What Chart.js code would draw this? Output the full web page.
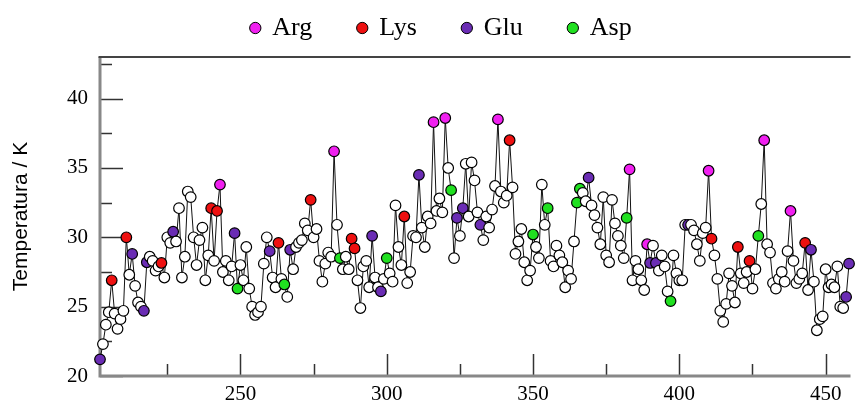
<!DOCTYPE html>
<html>
<head>
<meta charset="utf-8">
<script src="https://cdn.jsdelivr.net/npm/chart.js@4.4.1/dist/chart.umd.min.js"></script>
<style>
  html, body { margin: 0; padding: 0; background: #ffffff; }
  #wrap { width: 857px; height: 411px; }
</style>
</head>
<body>
<div id="wrap"><canvas id="c" width="857" height="411"></canvas></div>
<script>
// ---- data ----
const FIRST_RESIDUE = 202;
const temperature = [
  21.2, 22.3, 23.7, 24.6, 26.9, 24.5, 23.4, 24.1, 24.7, 30.0,   // 202-211
  27.3, 28.8, 26.5, 25.3, 25.0, 24.7, 28.2, 28.6, 28.3, 27.6,   // 212-221
  27.9, 28.15, 27.1, 30.0, 29.6, 30.4, 29.7, 32.1, 27.1, 28.6,  // 222-231
  33.3, 32.9, 30.0, 28.0, 29.8, 30.7, 26.9, 28.7, 32.1, 28.3,   // 232-241
  31.9, 33.8, 27.5, 28.3, 26.9, 27.9, 30.3, 26.3, 28.0, 26.9,   // 242-251
  29.3, 26.3, 25.0, 24.4, 24.6, 25.0, 28.1, 30.0, 29.0, 27.1,   // 252-261
  26.4, 29.6, 27.0, 26.6, 25.7, 29.1, 27.7, 29.3, 29.6, 29.8,   // 262-271
  31.0, 30.5, 32.7, 30.0, 30.6, 28.3, 26.8, 28.1, 28.9, 28.6,   // 272-281
  36.2, 30.9, 28.5, 27.7, 28.6, 27.7, 29.9, 29.2, 26.9, 24.9,   // 282-291
  27.9, 28.3, 26.4, 30.1, 27.1, 26.4, 26.1, 27.0, 28.5, 27.4,   // 292-301
  26.8, 32.3, 29.3, 28.0, 31.5, 26.7, 27.5, 30.1, 30.0, 34.5,   // 302-311
  30.7, 29.3, 31.5, 31.0, 38.3, 31.9, 32.8, 31.8, 38.6, 35.0,   // 312-321
  33.4, 28.5, 31.4, 30.1, 32.1, 35.3, 31.5, 35.4, 34.1, 31.8,   // 322-331
  30.9, 29.8, 31.5, 30.7, 32.0, 33.7, 38.5, 33.3, 32.5, 33.0,   // 332-341
  37.0, 33.6, 28.8, 29.7, 30.6, 28.2, 26.9, 27.6, 30.2, 29.3,   // 342-351
  28.5, 33.8, 30.9, 32.1, 28.3, 27.9, 29.4, 28.7, 28.2, 26.4,   // 352-361
  27.6, 27.0, 29.7, 32.5, 33.5, 33.2, 32.6, 34.3, 32.3, 31.6,   // 362-371
  30.7, 29.5, 32.9, 28.7, 28.2, 32.7, 31.0, 30.1, 29.4, 28.5,   // 372-381
  31.4, 34.9, 26.9, 28.3, 27.7, 26.9, 26.2, 29.5, 28.15, 29.4,  // 382-391
  28.15, 27.6, 28.7, 27.9, 26.1, 25.4, 28.7, 27.4, 26.9, 26.9,  // 392-401
  30.9, 30.9, 30.9, 30.5, 29.5, 28.3, 30.3, 30.7, 34.8, 29.9,   // 402-411
  28.7, 27.0, 24.7, 23.9, 25.2, 27.4, 26.5, 25.3, 29.3, 27.4,   // 412-421
  26.7, 27.5, 28.3, 26.3, 27.7, 30.1, 32.4, 37.0, 29.5, 28.9,   // 422-431
  26.7, 26.3, 27.0, 27.5, 26.8, 29.0, 31.9, 28.3, 26.7, 27.0,   // 432-441
  27.4, 29.6, 26.2, 29.1, 26.8, 23.3, 24.1, 24.3, 27.7, 26.4,   // 442-451
  26.6, 26.4, 27.9, 25.0, 24.9, 25.7, 28.1                      // 452-458
];
const argResidues = [243, 282, 316, 320, 338, 383, 389, 410, 429, 438];
const lysResidues = [206, 211, 223, 240, 242, 263, 274, 288, 289, 306, 342, 411, 420, 424, 443];
const gluResidues = [202, 213, 217, 218, 227, 248, 260, 267, 295, 298, 311, 324, 326, 332, 369, 390, 392, 403, 445, 457, 458];
const aspResidues = [249, 265, 284, 300, 322, 350, 355, 365, 366, 382, 397, 427];
const legendLabels = ['Arg', 'Lys', 'Glu', 'Asp'];
const xTickLabels = [250, 300, 350, 400, 450];
const yTickLabels = [20, 25, 30, 35, 40];

// ---- styling ----
const typeColors = { Arg: '#f020f0', Lys: '#ee1010', Glu: '#6a2cb4', Asp: '#20e020' };
const points = temperature.map((t, i) => ({ x: FIRST_RESIDUE + i, y: t }));
const pointColors = points.map(p => {
  if (argResidues.includes(p.x)) return typeColors.Arg;
  if (lysResidues.includes(p.x)) return typeColors.Lys;
  if (gluResidues.includes(p.x)) return typeColors.Glu;
  if (aspResidues.includes(p.x)) return typeColors.Asp;
  return '#ffffff';
});

const legendDatasets = legendLabels.map(name => ({
  label: name,
  data: [],
  backgroundColor: typeColors[name],
  borderColor: '#000',
  borderWidth: 1,
  pointStyle: 'circle',
  showLine: false
}));

const SERIF = "'Liberation Serif', 'DejaVu Serif', serif";
const SANS = "'Liberation Sans', Arial, sans-serif";

const framePlugin = {
  id: 'frame',
  beforeInit(chart) {
    const lg = chart.legend;
    const origFit = lg.fit;
    lg.fit = function () { origFit.call(this); this.height = 57; };
  },
  afterLayout(chart) {
    const lg = chart.legend;
    lg.top = -31;
    lg.left += 13;
    lg.right += 13;
  },
  beforeDatasetsDraw(chart) {
    const { ctx, chartArea: a, scales: { x, y } } = chart;
    ctx.save();
    // inward tick marks
    ctx.strokeStyle = '#333';
    ctx.lineWidth = 1.5;
    x.ticks.forEach(t => {
      const px = Math.round(x.getPixelForValue(t.value)) + 0.5;
      const len = (t.value % 50 === 0) ? 22 : 12;
      ctx.beginPath(); ctx.moveTo(px, a.bottom); ctx.lineTo(px, a.bottom - len); ctx.stroke();
    });
    y.ticks.forEach(t => {
      const py = Math.round(y.getPixelForValue(t.value)) + 0.5;
      const len = (t.value % 5 === 0) ? 23 : 12;
      ctx.beginPath(); ctx.moveTo(a.left, py); ctx.lineTo(a.left + len, py); ctx.stroke();
    });
    // frame
    ctx.strokeStyle = '#888';
    ctx.lineWidth = 3;
    ctx.beginPath(); ctx.moveTo(a.left, a.top); ctx.lineTo(a.left, a.bottom); ctx.lineTo(a.right, a.bottom); ctx.stroke();
    ctx.strokeStyle = '#444';
    ctx.lineWidth = 2;
    ctx.beginPath(); ctx.moveTo(a.left - 1.5, a.top); ctx.lineTo(a.right, a.top); ctx.stroke();
    ctx.restore();
  }
};

new Chart(document.getElementById('c'), {
  type: 'scatter',
  data: {
    datasets: [{
      label: 'T',
      data: points,
      showLine: true,
      borderColor: '#111',
      borderWidth: 1,
      pointRadius: 5.3,
      pointHoverRadius: 5.3,
      pointBorderWidth: 1.2,
      pointBorderColor: '#000',
      pointBackgroundColor: pointColors,
      clip: false,
      tension: 0
    }].concat(legendDatasets)
  },
  options: {
    responsive: false,
    animation: false,
    devicePixelRatio: 1,
    layout: { padding: 0 },
    plugins: {
      tooltip: { enabled: false },
      legend: {
        display: true,
        position: 'top',
        labels: {
          filter: item => legendLabels.includes(item.text),
          usePointStyle: true,
          boxWidth: 8,
          boxHeight: 8,
          padding: 46,
          color: '#000',
          font: { family: SERIF, size: 26 }
        }
      }
    },
    scales: {
      x: {
        type: 'linear',
        min: 202,
        max: 458.5,
        afterFit: s => { s.height = 35; },
        border: { display: false },
        grid: { display: false, drawTicks: false },
        ticks: {
          stepSize: 25,
          includeBounds: false,
          autoSkip: false,
          maxRotation: 0,
          padding: 6,
          color: '#000',
          font: { family: SERIF, size: 21 },
          callback: v => xTickLabels.includes(v) ? String(v) : ''
        }
      },
      y: {
        type: 'linear',
        min: 20,
        max: 43,
        afterFit: s => { s.width = 100; },
        border: { display: false },
        grid: { display: false, drawTicks: false },
        title: {
          display: true,
          text: 'Temperatura / K',
          color: '#000',
          font: { family: SANS, size: 21 },
          padding: { top: 9, bottom: 0 }
        },
        ticks: {
          stepSize: 2.5,
          includeBounds: false,
          autoSkip: false,
          padding: 12,
          color: '#000',
          font: { family: SERIF, size: 21 },
          callback: v => yTickLabels.includes(v) ? String(v) : ''
        }
      }
    }
  },
  plugins: [framePlugin]
});
</script>
</body>
</html>
